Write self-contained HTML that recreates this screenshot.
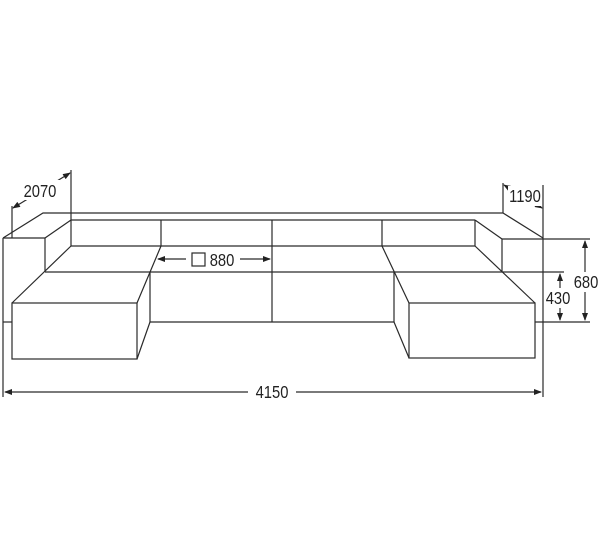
<!DOCTYPE html>
<html><head><style>body{margin:0;background:#fff}svg{display:block}</style></head><body>
<svg width="600" height="553" viewBox="0 0 600 553" xmlns="http://www.w3.org/2000/svg">
<defs>
<marker id="a" markerWidth="8" markerHeight="6" refX="7" refY="3" orient="auto-start-reverse" markerUnits="userSpaceOnUse"><path d="M0,0 L8,3 L0,6 z" fill="#222"/></marker>
</defs>
<g stroke="#2a2a2a" stroke-width="1.2" fill="none">
<polyline points="3,238 43,213 503,213 543,238"/>
<line x1="45" y1="238" x2="71" y2="220"/>
<line x1="71" y1="220" x2="475" y2="220"/>
<line x1="475" y1="220" x2="502" y2="239"/>
<line x1="3" y1="238" x2="45" y2="238"/>
<line x1="502" y1="239" x2="543" y2="239"/>
<line x1="71" y1="220" x2="71" y2="246"/>
<line x1="475" y1="220" x2="475" y2="246"/>
<line x1="161" y1="220" x2="161" y2="246"/>
<line x1="272" y1="220" x2="272" y2="322"/>
<line x1="382" y1="220" x2="382" y2="246"/>
<line x1="71" y1="246" x2="475" y2="246"/>
<line x1="45" y1="238" x2="45" y2="272"/>
<line x1="502" y1="239" x2="502" y2="272"/>
<line x1="45" y1="272" x2="564" y2="272"/>
<line x1="12" y1="303" x2="71" y2="246"/>
<rect x="12" y="303" width="125" height="56"/>
<line x1="137" y1="303" x2="161" y2="246"/>
<line x1="137" y1="359" x2="150" y2="322"/>
<line x1="150" y1="272" x2="150" y2="322"/>
<line x1="3" y1="322" x2="12" y2="322"/>
<line x1="150" y1="322" x2="394" y2="322"/>
<line x1="475" y1="246" x2="535" y2="303"/>
<rect x="409" y="303" width="126" height="55"/>
<line x1="382" y1="246" x2="409" y2="303"/>
<line x1="394" y1="272" x2="394" y2="322"/>
<line x1="394" y1="322" x2="409" y2="358"/>
<line x1="535" y1="322" x2="590" y2="322"/>
<line x1="3" y1="238" x2="3" y2="397"/>
<line x1="543" y1="185" x2="543" y2="397"/>
<line x1="5" y1="392" x2="248" y2="392" marker-start="url(#a)"/>
<line x1="296" y1="392" x2="541" y2="392" marker-end="url(#a)"/>
<line x1="12" y1="206" x2="12" y2="238"/>
<line x1="71" y1="170" x2="71" y2="220"/>
<line x1="13" y1="208" x2="70" y2="173" marker-start="url(#a)" marker-end="url(#a)"/>
<line x1="503" y1="183" x2="503" y2="213"/>
<line x1="504" y1="185" x2="542" y2="208" marker-start="url(#a)" marker-end="url(#a)"/>
<line x1="543" y1="239" x2="590" y2="239"/>
<line x1="585" y1="241" x2="585" y2="320" marker-start="url(#a)" marker-end="url(#a)"/>
<line x1="560" y1="274" x2="560" y2="320" marker-start="url(#a)" marker-end="url(#a)"/>
<line x1="158" y1="259" x2="186" y2="259" marker-start="url(#a)"/>
<line x1="240" y1="259" x2="270" y2="259" marker-end="url(#a)"/>
<rect x="192" y="253" width="13" height="13"/>
</g>
<g font-family="Liberation Sans, sans-serif" font-size="18" fill="#222">
<rect x="20" y="180" width="40" height="20" fill="#fff"/>
<text x="40" y="197" text-anchor="middle" transform="translate(40 0) scale(0.82 1) translate(-40 0)">2070</text>
<rect x="508" y="186" width="34" height="20" fill="#fff"/>
<text x="525" y="202" text-anchor="middle" transform="translate(525 0) scale(0.82 1) translate(-525 0)">1190</text>
<text x="222" y="266" text-anchor="middle" transform="translate(222 0) scale(0.82 1) translate(-222 0)">880</text>
<text x="272" y="398" text-anchor="middle" transform="translate(272 0) scale(0.82 1) translate(-272 0)">4150</text>
<rect x="570" y="272" width="30" height="20" fill="#fff"/>
<text x="586" y="288" text-anchor="middle" transform="translate(586 0) scale(0.82 1) translate(-586 0)">680</text>
<rect x="545" y="288" width="28" height="20" fill="#fff"/>
<text x="558" y="304" text-anchor="middle" transform="translate(558 0) scale(0.82 1) translate(-558 0)">430</text>
</g>
</svg>
</body></html>
